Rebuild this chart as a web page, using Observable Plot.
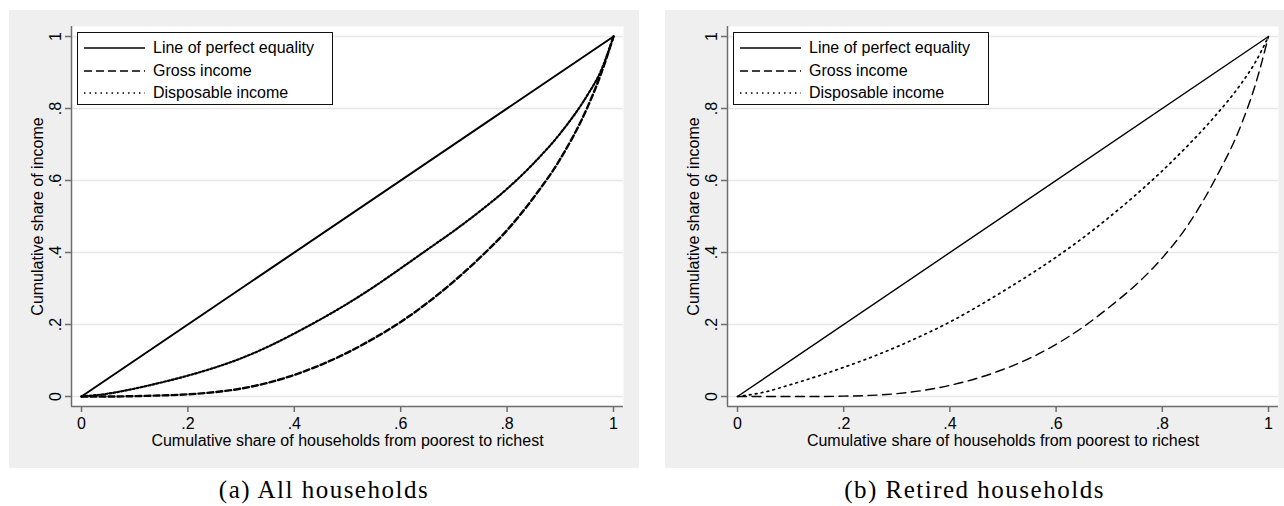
<!DOCTYPE html>
<html>
<head>
<meta charset="utf-8">
<script src="https://cdn.jsdelivr.net/npm/d3@7"></script>
<script src="https://cdn.jsdelivr.net/npm/@observablehq/plot@0.6"></script>
<style>
  html, body { margin: 0; padding: 0; background: #ffffff; }
  #root { position: relative; width: 1284px; height: 506px; overflow: hidden; }
  .panel { position: absolute; top: 10px; height: 458px; background: #efefef; }
  .panel svg { position: absolute; left: 0; top: 0; }
  .legend { position: absolute; left: 68px; top: 22px; width: 254px; height: 71px;
            border: 1.3px solid #111; background: #fff; font-family: "Liberation Sans", Arial, sans-serif;
            font-size: 16px; color: #000; }
  .legend .row { position: absolute; left: 0; height: 20px; width: 100%; }
  .legend .row svg { position: absolute; left: 6px; top: 0; }
  .legend .row span { position: absolute; left: 75px; top: 0; line-height: 20px; white-space: nowrap; }
  .caption { position: absolute; top: 476px; font-family: "Liberation Serif", "Times New Roman", serif;
             font-size: 25px; letter-spacing: 1.5px; color: #000; text-align: center; }
</style>
</head>
<body>
<div id="root"></div>
<script>
// ---- data ----
const householdShare = [0, 0.05, 0.1, 0.15, 0.2, 0.25, 0.3, 0.35, 0.4, 0.45, 0.5, 0.55, 0.6, 0.65, 0.7, 0.75, 0.8, 0.85, 0.9, 0.95, 0.975, 1];
const allGross        = [0, 0, 0.001, 0.003, 0.006, 0.012, 0.022, 0.038, 0.06, 0.088, 0.122, 0.162, 0.207, 0.26, 0.32, 0.387, 0.462, 0.553, 0.66, 0.8, 0.89, 1];
const allDisposable   = [0, 0.008, 0.022, 0.039, 0.058, 0.08, 0.106, 0.138, 0.175, 0.215, 0.258, 0.305, 0.356, 0.408, 0.46, 0.516, 0.577, 0.648, 0.731, 0.835, 0.9, 1];
const retiredGross      = [0, 0, 0, 0, 0.001, 0.003, 0.008, 0.017, 0.031, 0.05, 0.075, 0.106, 0.145, 0.192, 0.248, 0.31, 0.385, 0.48, 0.605, 0.76, 0.865, 1];
const retiredDisposable = [0, 0.012, 0.033, 0.056, 0.081, 0.108, 0.138, 0.171, 0.207, 0.248, 0.292, 0.338, 0.387, 0.44, 0.498, 0.56, 0.627, 0.7, 0.78, 0.872, 0.928, 1];
const equalityShare = [0, 1];

const xTicks = [0, 0.2, 0.4, 0.6, 0.8, 1];
const xTickLabels = ["0", ".2", ".4", ".6", ".8", "1"];
const yTicks = [0, 0.2, 0.4, 0.6, 0.8, 1];
const yTickLabels = ["0", ".2", ".4", ".6", ".8", "1"];

const seriesNames = ["Line of perfect equality", "Gross income", "Disposable income"];
const xTitle = "Cumulative share of households from poorest to richest";
const yTitle = "Cumulative share of income";
const captions = ["(a) All households", "(b) Retired households"];

// ---- drawing ----
const axisColor = "#6e6e6e";
const gridColor = "#e8e8e8";

function makePanel(opts) {
  const {width, marginRight, gross, disposable, wSolid, wDash, wDot, dash, dot} = opts;
  const grossData = householdShare.map((x, i) => ({x, y: gross[i]}));
  const dispData = householdShare.map((x, i) => ({x, y: disposable[i]}));
  const eqData = equalityShare.map(v => ({x: v, y: v}));
  const xTickData = xTicks.map((v, i) => ({v, label: xTickLabels[i]}));
  const yTickData = yTicks.map((v, i) => ({v, label: yTickLabels[i]}));
  return Plot.plot({
    width, height: 458,
    marginLeft: 72, marginRight, marginTop: 26, marginBottom: 72,
    x: {domain: [0, 1], axis: null, label: null},
    y: {domain: [0, 1], axis: null, label: null},
    style: {background: "transparent", fontFamily: "'Liberation Sans', Arial, sans-serif", fontSize: "16px", color: "#000", overflow: "visible"},
    marks: [
      Plot.frame({fill: "white", inset: -10}),
      Plot.gridY(yTicks, {stroke: gridColor, strokeOpacity: 1, strokeWidth: 1.5, insetLeft: -10, insetRight: -10}),
      Plot.ruleX([0], {stroke: axisColor, strokeWidth: 1.5, dx: -10, insetTop: -10, insetBottom: -10}),
      Plot.ruleY([0], {stroke: axisColor, strokeWidth: 1.5, dy: 10, insetLeft: -10, insetRight: -10}),
      Plot.axisX({ticks: xTicks, tickSize: 6, dy: 10, tickFormat: () => "", stroke: axisColor, strokeWidth: 1.5, label: null}),
      Plot.axisY({ticks: yTicks, tickSize: 6, dx: -10, tickFormat: () => "", stroke: axisColor, strokeWidth: 1.5, label: null}),
      Plot.text(xTickData, {x: "v", text: "label", frameAnchor: "bottom", dy: 27, lineAnchor: "middle", fill: "#000", fontSize: 16}),
      Plot.text(yTickData, {y: "v", text: "label", frameAnchor: "left", dx: -26, rotate: -90, textAnchor: "middle", lineAnchor: "middle", fill: "#000", fontSize: 16}),
      Plot.text([xTitle], {text: d => d, frameAnchor: "bottom", dy: 44, lineAnchor: "middle", fill: "#000", fontSize: 16}),
      Plot.text([yTitle], {text: d => d, frameAnchor: "left", dx: -44, rotate: -90, textAnchor: "middle", lineAnchor: "middle", fill: "#000", fontSize: 16}),
      Plot.line(eqData, {x: "x", y: "y", stroke: "#000", strokeWidth: wSolid}),
      Plot.line(grossData, {x: "x", y: "y", stroke: "#000", strokeWidth: wDash, strokeDasharray: dash, curve: "monotone-x"}),
      Plot.line(dispData, {x: "x", y: "y", stroke: "#000", strokeWidth: wDot, strokeDasharray: dot, curve: "monotone-x"})
    ]
  });
}

function makeLegend() {
  const lg = document.createElement("div");
  lg.className = "legend";
  const styles = [null, "8,4", "1.5,4"];
  const tops = [5, 28, 50];
  seriesNames.forEach((name, i) => {
    const row = document.createElement("div");
    row.className = "row";
    row.style.top = tops[i] + "px";
    const ns = "http://www.w3.org/2000/svg";
    const s = document.createElementNS(ns, "svg");
    s.setAttribute("width", "62"); s.setAttribute("height", "20");
    const l = document.createElementNS(ns, "line");
    l.setAttribute("x1", "0"); l.setAttribute("x2", "61");
    l.setAttribute("y1", "10"); l.setAttribute("y2", "10");
    l.setAttribute("stroke", "#000"); l.setAttribute("stroke-width", "1.4");
    if (styles[i]) l.setAttribute("stroke-dasharray", styles[i]);
    s.appendChild(l);
    row.appendChild(s);
    const t = document.createElement("span");
    t.textContent = name;
    row.appendChild(t);
    lg.appendChild(row);
  });
  return lg;
}

const root = document.getElementById("root");

const panelDefs = [
  {left: 9, width: 630, marginRight: 26, gross: allGross, disposable: allDisposable,
   wSolid: 2, wDash: 2.4, wDot: 2.2, dash: "6,3", dot: "2,2"},
  {left: 665, width: 619, marginRight: 16, gross: retiredGross, disposable: retiredDisposable,
   wSolid: 1.4, wDash: 1.4, wDot: 1.7, dash: "9,5.5", dot: "1.7,4.3"}
];

panelDefs.forEach((p, i) => {
  const div = document.createElement("div");
  div.className = "panel";
  div.style.left = p.left + "px";
  div.style.width = p.width + "px";
  div.appendChild(makePanel(p));
  div.appendChild(makeLegend());
  root.appendChild(div);
  const cap = document.createElement("div");
  cap.className = "caption";
  cap.style.left = p.left + "px";
  cap.style.width = p.width + "px";
  cap.textContent = captions[i];
  root.appendChild(cap);
});
</script>
</body>
</html>
